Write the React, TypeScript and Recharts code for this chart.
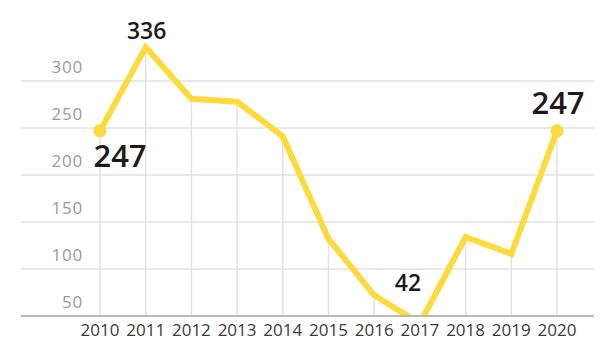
import React from 'react';
import { LineChart, Line, XAxis, YAxis, CartesianGrid, ReferenceLine, LabelList } from 'recharts';

const years = ['2010', '2011', '2012', '2013', '2014', '2015', '2016', '2017', '2018', '2019', '2020'];
const counts = [247, 336, 281, 278, 241, 132, 72, 42, 134, 116, 247];
const yTicks = [50, 100, 150, 200, 250, 300];
const yDomain = [50, 350];
const labelledYears = ['2010', '2011', '2017', '2020'];
const dottedYears = ['2010', '2020'];

const data = years.map((year, i) => ({ year, count: counts[i] }));

const LABEL_STYLE: Record<string, { dx: number; dy: number; size: number }> = {
  '2010': { dx: 20, dy: 36, size: 31 },
  '2011': { dx: 1, dy: -8, size: 23 },
  '2017': { dx: -12, dy: -33, size: 23 },
  '2020': { dx: 1, dy: -17, size: 31 },
};

const FONT = '"Open Sans", sans-serif';
const YELLOW = '#FFDA3C';
const GRID = '#e2e2e2';

const YTick = (props: any) => {
  const { x, y, payload } = props;
  return (
    <text x={x + 70} y={y - 8} textAnchor="end" fill="#9a9a9a" fontSize={17} fontFamily={FONT} letterSpacing={0.8}>
      {payload.value}
    </text>
  );
};

const XTick = (props: any) => {
  const { x, y, payload } = props;
  return (
    <text x={x} y={y + 12} textAnchor="middle" fill="#3a3a3a" fontSize={17} fontFamily={FONT}>
      {payload.value}
    </text>
  );
};

const renderDot = (props: any) => {
  const { cx, cy, index } = props;
  if (!dottedYears.includes(years[index])) return <g key={`dot-${index}`} />;
  return <circle key={`dot-${index}`} cx={cx} cy={cy} r={6.5} fill={YELLOW} stroke="none" />;
};

const renderLabel = (props: any) => {
  const { x, y, value, index } = props;
  const year = years[index];
  if (!labelledYears.includes(year)) return null;
  const s = LABEL_STYLE[year];
  return (
    <text key={`lbl-${index}`} x={x + s.dx} y={y + s.dy} textAnchor="middle" fill="#231815" fontSize={s.size} fontFamily={FONT} fontWeight={600}>
      {value}
    </text>
  );
};

export default function App() {
  return (
    <div style={{ position: 'absolute', left: 0, top: 0, width: 608, height: 354, background: '#fff' }}>
      <LineChart width={608} height={354} data={data} margin={{ top: 34, right: 14, bottom: 0, left: 20 }}>
        <CartesianGrid vertical={false} stroke={GRID} strokeWidth={1.5} horizontalValues={yTicks} />
        {data.map((d) => (
          <ReferenceLine
            key={d.year}
            segment={[{ x: d.year, y: yDomain[0] }, { x: d.year, y: d.count }]}
            stroke={GRID}
            strokeWidth={1.5}
          />
        ))}
        <XAxis
          dataKey="year"
          type="category"
          padding={{ left: 79, right: 37 }}
          height={38}
          tickLine={false}
          axisLine={{ stroke: '#a8a8a8', strokeWidth: 1.5 }}
          tick={<XTick />}
          interval={0}
        />
        <YAxis
          type="number"
          domain={yDomain}
          ticks={yTicks}
          allowDataOverflow={true}
          width={1}
          axisLine={false}
          tickLine={false}
          tick={(p: any) => <YTick {...p} />}
          interval={0}
        />
        <Line
          type="linear"
          dataKey="count"
          stroke={YELLOW}
          strokeWidth={6}
          dot={renderDot}
          activeDot={false}
          isAnimationActive={false}
        >
          <LabelList dataKey="count" content={renderLabel} />
        </Line>
      </LineChart>
    </div>
  );
}
